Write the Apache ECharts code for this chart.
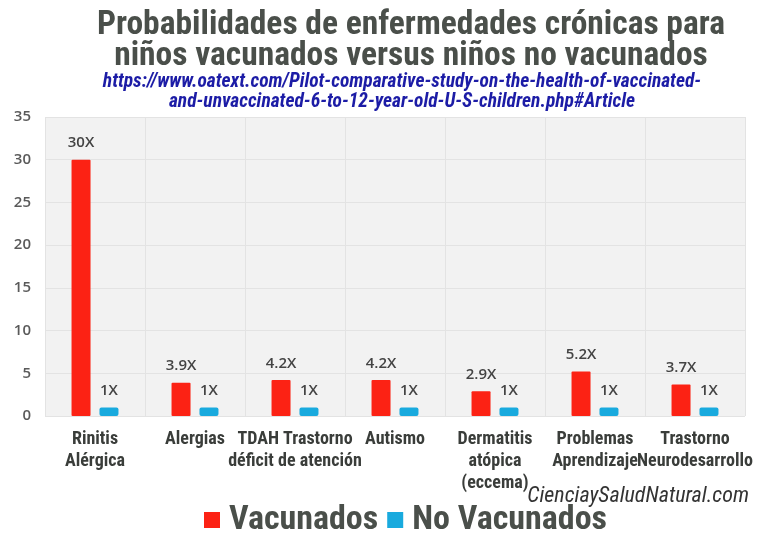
<!DOCTYPE html>
<html><head><meta charset="utf-8">
<script src="https://cdn.jsdelivr.net/npm/echarts@6/dist/echarts.min.js"></script>
<style>html,body{margin:0;padding:0;background:#fff}#c{width:770px;height:550px}</style>
</head><body><div id="c"></div>
<script>
var categories = ['Rinitis\nAlérgica','Alergias','TDAH Trastorno\ndéficit de atención','Autismo','Dermatitis\natópica\n(eccema)','Problemas\nAprendizaje','Trastorno\nNeurodesarrollo'];
var vacunados = [30, 3.9, 4.2, 4.2, 2.9, 5.2, 3.7];
var noVacunados = [1, 1, 1, 1, 1, 1, 1];
var vacLabels = ['30X','3.9X','4.2X','4.2X','2.9X','5.2X','3.7X'];
var noVacLabels = ['1X','1X','1X','1X','1X','1X','1X'];
var yTicks = [0,5,10,15,20,25,30,35];

var NARROW = '"Roboto Condensed", "Liberation Sans Narrow", Roboto, sans-serif';
var chart = echarts.init(document.getElementById('c'), null, {renderer:'canvas'});
chart.setOption({
  backgroundColor:'#fff',
  animation:false,
  title:[{
    text:'Probabilidades de enfermedades crónicas para\nniños vacunados versus niños no vacunados',
    left:406, top:5, textAlign:'center',
    textStyle:{fontFamily:NARROW, fontWeight:'bold', fontSize:33.5, lineHeight:31, color:'#4a4f4a'}
  },{
    text:'https://www.oatext.com/Pilot-comparative-study-on-the-health-of-vaccinated-\nand-unvaccinated-6-to-12-year-old-U-S-children.php#Article',
    left:397, top:67, textAlign:'center',
    textStyle:{fontFamily:NARROW, fontStyle:'italic', fontWeight:'bold', fontSize:19.5, lineHeight:20, color:'#1c1ca6'}
  },{
    text:'CienciaySaludNatural.com',
    right:16, top:480,
    textStyle:{fontFamily:NARROW, fontStyle:'italic', fontWeight:'normal', fontSize:22, color:'#333'}
  }],
  legend:{
    data:['Vacunados','No Vacunados'],
    left:199, top:498, itemWidth:16, itemHeight:16, itemGap:9,
    icon:'rect',
    textStyle:{fontFamily:NARROW, fontWeight:'bold', fontSize:34, color:'#4a4f4a', padding:[0,0,0,4]}
  },
  grid:{left:45, right:25, top:117, bottom:134, show:true, backgroundColor:'#f2f2f2', borderWidth:0},
  xAxis:{
    type:'category', data:categories,
    axisLine:{show:false}, axisTick:{show:false},
    splitLine:{show:true, lineStyle:{color:'#e3e3e3', width:1}},
    axisLabel:{interval:0, margin:12, fontFamily:NARROW, fontWeight:'bold', fontSize:18, lineHeight:22, color:'#3a3d3a'}
  },
  yAxis:{
    type:'value', min:0, max:35, interval:5,
    axisLine:{show:false}, axisTick:{show:false},
    splitLine:{lineStyle:{color:'#e3e3e3', width:1}},
    axisLabel:{fontFamily:'"Open Sans", sans-serif', fontSize:15, fontWeight:600, color:'#5a5a5a', margin:14,
      formatter:function(v){return yTicks.indexOf(v)>=0 ? String(v) : '';}}
  },
  series:[{
    name:'Vacunados', type:'bar', data:vacunados, barWidth:19, barGap:'47%',
    itemStyle:{color:'#fc2214', borderRadius:1},
    label:{show:true, position:'top', distance:9, fontFamily:'"Open Sans", sans-serif', fontSize:15, fontWeight:600, color:'#444',
      formatter:function(p){return vacLabels[p.dataIndex];}}
  },{
    name:'No Vacunados', type:'bar', data:noVacunados, barWidth:19,
    itemStyle:{color:'#19aade', borderRadius:2},
    label:{show:true, position:'top', distance:9, fontFamily:'"Open Sans", sans-serif', fontSize:15, fontWeight:600, color:'#444',
      formatter:function(p){return noVacLabels[p.dataIndex];}}
  }]
});
</script></body></html>
